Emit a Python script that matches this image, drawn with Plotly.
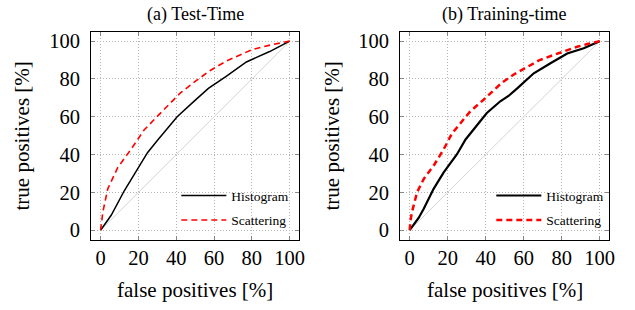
import plotly.graph_objects as go

# ---- data ----
diag_x = [0, 100]
diag_y = [0, 100]

a_hist_x = [0, 5.6, 12.6, 18, 24.8, 30, 34.4, 40.5, 49.2, 57, 66.6, 77.1, 89.4, 100]
a_hist_y = [0, 7.9, 21, 30, 41, 47.5, 53, 60, 68, 75, 81.5, 89, 94.5, 100]
a_scat_x = [0, 0.5, 1.2, 3.8, 9.1, 16.1, 23, 33.5, 42.2, 50, 58, 66.6, 80, 90, 100]
a_scat_y = [0, 5, 9.6, 21.9, 33.2, 42.8, 53, 63.8, 72.6, 78.7, 84.5, 89.5, 95.5, 98, 100]

b_hist_x = [0, 4.7, 7.4, 12.6, 17.9, 24.9, 29.4, 33.6, 40.6, 47.7, 52, 56.6, 65.3, 74.1, 82.9, 91.6, 100]
b_hist_y = [0, 6.5, 11.4, 21.9, 30.6, 40.2, 48, 53.3, 62, 68.2, 71, 75, 83, 88.3, 93.5, 96.2, 100]
b_scat_x = [0, 0.4, 1.2, 3.9, 7.4, 12.6, 17.9, 22.2, 25, 31.9, 38.9, 48.5, 55, 61.8, 68, 75.8, 82, 88.1, 94, 100]
b_scat_y = [0, 5, 9.6, 20.1, 27.1, 34.1, 42.8, 51.1, 54.5, 62.9, 69, 78, 82.5, 86.5, 89.8, 92.7, 95, 97, 98.6, 100]

ticks = [0, 20, 40, 60, 80, 100]
titles = ["(a) Test-Time", "(b) Training-time"]
xlabel = "false positives [%]"
ylabel = "true positives [%]"
names = ["Histogram", "Scattering"]

FONT = "'Liberation Serif', 'Times New Roman', Times, serif"

W, H = 635, 310


def px(xp):
    return xp / W


def py(yp):
    return 1 - yp / H


fig = go.Figure()

panels = [
    (a_hist_x, a_hist_y, a_scat_x, a_scat_y, "x", "y", "legend", 1.5, 1.6),
    (b_hist_x, b_hist_y, b_scat_x, b_scat_y, "x2", "y2", "legend2", 2.2, 2.5),
]
for hx, hy, sx, sy, xa, ya, lg, bw, rw in panels:
    fig.add_trace(go.Scatter(x=diag_x, y=diag_y, mode="lines", xaxis=xa, yaxis=ya,
                             line=dict(color="#d4d4d4", width=1), showlegend=False,
                             hoverinfo="skip"))
    fig.add_trace(go.Scatter(x=hx, y=hy, mode="lines", xaxis=xa, yaxis=ya, name=names[0],
                             line=dict(color="black", width=bw), legend=lg,
                             legendgroup="h"))
    fig.add_trace(go.Scatter(x=sx, y=sy, mode="lines", xaxis=xa, yaxis=ya, name=names[1],
                             line=dict(color="#ff0000", width=rw, dash="6px,4px"), legend=lg,
                             legendgroup="s"))

axis_common = dict(range=[-5, 105], tickvals=ticks, ticktext=[str(t) for t in ticks],
                   showgrid=True, gridcolor="#b4b4b4", griddash="1px,2px", gridwidth=1,
                   showline=True, linecolor="black", linewidth=1, mirror="ticks",
                   ticks="inside", ticklen=4, tickcolor="#888888", zeroline=False,
                   tickfont=dict(family=FONT, size=20.5, color="black"))
yaxis_extra = dict(ticklabelstandoff=6)

xd1 = [px(92), px(302)]
xd2 = [px(404), px(615)]
yd = [py(241), py(31)]

leg_common = dict(xanchor="left", yanchor="top", bgcolor="rgba(0,0,0,0)", borderwidth=0,
                  traceorder="grouped", tracegroupgap=4, itemwidth=45,
                  font=dict(family=FONT, size=13.5, color="black"))

fig.update_layout(
    width=W, height=H, margin=dict(l=0, r=0, t=0, b=0),
    paper_bgcolor="white", plot_bgcolor="white",
    font=dict(family=FONT, color="black"),
    xaxis=dict(domain=xd1, anchor="y", **axis_common),
    yaxis=dict(domain=yd, anchor="x", **axis_common, **yaxis_extra),
    xaxis2=dict(domain=xd2, anchor="y2", **axis_common),
    yaxis2=dict(domain=yd, anchor="x2", **axis_common, **yaxis_extra),
    legend=dict(x=px(178), y=py(181), **leg_common),
    legend2=dict(x=px(496), y=py(181), **leg_common),
)

ann = []
for xd, t, ylx in [(xd1, titles[0], 22), (xd2, titles[1], 335)]:
    cx = (xd[0] + xd[1]) / 2
    ann.append(dict(text=t, x=cx, y=py(14), xref="paper", yref="paper",
                    showarrow=False, font=dict(family=FONT, size=18, color="black"),
                    xanchor="center", yanchor="middle"))
    ann.append(dict(text=xlabel, x=cx, y=py(292), xref="paper", yref="paper",
                    showarrow=False, font=dict(family=FONT, size=21, color="black"),
                    xanchor="center", yanchor="middle"))
    ann.append(dict(text=ylabel, x=px(ylx), y=(yd[0] + yd[1]) / 2, xref="paper",
                    yref="paper", textangle=-90, showarrow=False,
                    font=dict(family=FONT, size=21, color="black"),
                    xanchor="center", yanchor="middle"))
fig.update_layout(annotations=ann)

fig.write_html("out.html", config={"displayModeBar": False},
               post_script="document.body.style.margin='0px';document.body.style.overflow='hidden';")
